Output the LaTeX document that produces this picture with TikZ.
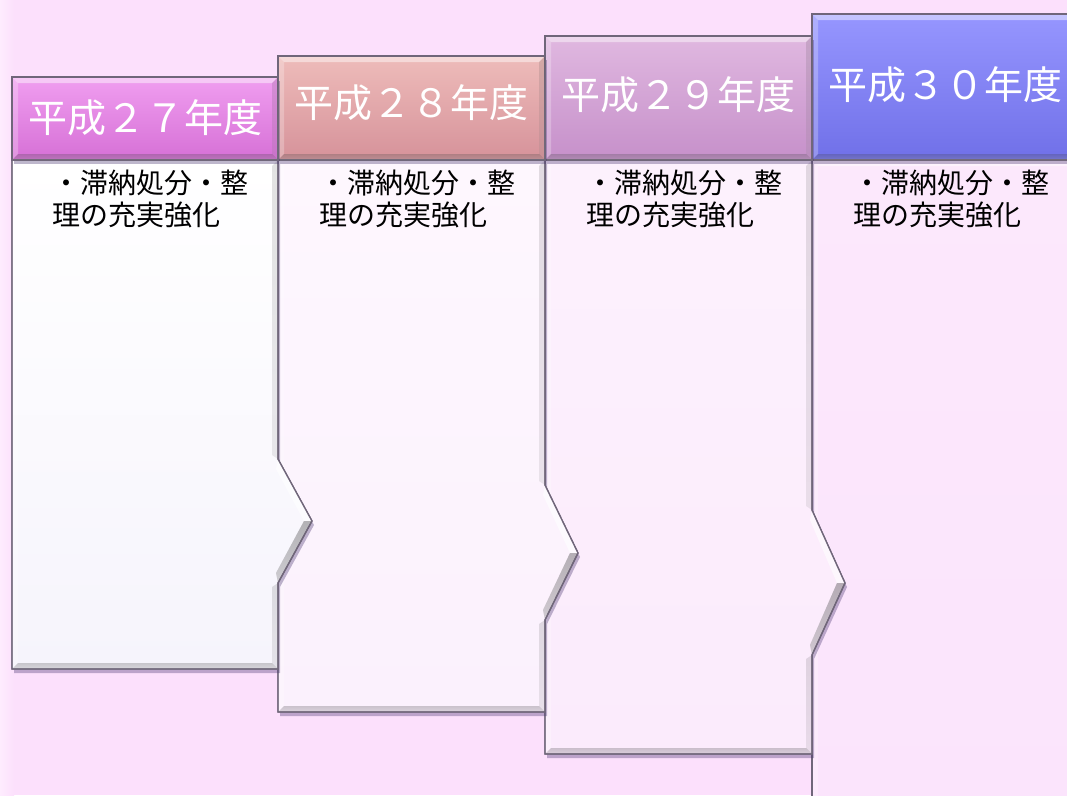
\documentclass[tikz,border=0pt]{standalone}
\usepackage{fontspec}
\setmainfont{Noto Sans CJK JP}
\usetikzlibrary{shadows}
\definecolor{bg}{RGB}{252,224,252}
\definecolor{bgl}{RGB}{254,236,254}
\definecolor{edge}{RGB}{112,102,122}
\definecolor{hAt}{RGB}{240,158,240}\definecolor{hAb}{RGB}{214,112,214}
\definecolor{hBt}{RGB}{238,188,186}\definecolor{hBb}{RGB}{214,146,154}
\definecolor{hCt}{RGB}{224,184,224}\definecolor{hCb}{RGB}{198,144,202}
\definecolor{hDt}{RGB}{150,150,255}\definecolor{hDb}{RGB}{112,112,232}
\definecolor{bAt}{RGB}{255,255,255}\definecolor{bAb}{RGB}{246,244,252}
\definecolor{bBt}{RGB}{254,247,254}\definecolor{bBb}{RGB}{251,241,253}
\definecolor{bCt}{RGB}{253,241,253}\definecolor{bCb}{RGB}{251,235,252}
\definecolor{bDt}{RGB}{252,232,252}\definecolor{bDb}{RGB}{251,228,252}
\definecolor{shade}{RGB}{70,50,110}
\tikzset{
  panel/.style={draw=edge, line width=1.3pt, line join=miter,
    drop shadow={shadow xshift=2pt, shadow yshift=-4pt, opacity=.35, fill=shade}},
  htext/.style={text=white, font=\fontsize{39}{42}\selectfont, inner sep=0pt},
  btext/.style={text=black, font=\fontsize{28}{31.5}\selectfont, inner sep=0pt, align=left, anchor=north west}
}
% bevel on a rectangle: x1,y1,x2,y2
\newcommand\mybevel[4]{%
  \fill[white,opacity=.45] (#1,#2) -- (#3,#2) -- (#3-6,#2+6) -- (#1+6,#2+6) -- cycle;
  \fill[white,opacity=.25] (#1,#2) -- (#1+6,#2+6) -- (#1+6,#4-6) -- (#1,#4) -- cycle;
  \fill[shade,opacity=.14] (#1,#4) -- (#1+6,#4-6) -- (#3-6,#4-6) -- (#3,#4) -- cycle;
  \fill[shade,opacity=.08] (#3,#2) -- (#3,#4) -- (#3-6,#4-6) -- (#3-6,#2+6) -- cycle;
}
% body with arrow on right: L,R,B,nS,P,nM,nE,topcolor,bottomcolor
\newcommand\mybody[9]{%
  \path[panel, top color=#8, bottom color=#9]
    (#1,160) -- (#2,160) -- (#2,#4) -- (#5,#6) -- (#2,#7) -- (#2,#3) -- (#1,#3) -- cycle;
  \fill[white,opacity=.25] (#1,160) -- (#1+6,166) -- (#1+6,#3-6) -- (#1,#3) -- cycle;
  \fill[shade,opacity=.14] (#1,#3) -- (#1+6,#3-6) -- (#2-6,#3-6) -- (#2,#3) -- cycle;
  \fill[shade,opacity=.08] (#2,#7) -- (#2,#3) -- (#2-6,#3-6) -- (#2-6,#7+4) -- cycle;
  \fill[shade,opacity=.08] (#2,160) -- (#2,#4) -- (#2-6,#4-4) -- (#2-6,166) -- cycle;
  \fill[white,opacity=.6] (#2,#4) -- (#5,#6) -- (#5-8,#6) -- (#2-2,#4+10) -- cycle;
  \fill[shade,opacity=.22] (#5,#6) -- (#2,#7) -- (#2-2,#7-10) -- (#5-8,#6) -- cycle;
  \draw[edge, line width=1.3pt] (#1,160) -- (#2,160) -- (#2,#4) -- (#5,#6) -- (#2,#7) -- (#2,#3) -- (#1,#3) -- cycle;
}
\newcommand\myhead[6]{% L,R,top,topcolor,bottomcolor
  \path[panel, top color=#4, bottom color=#5] (#1,#3) rectangle (#2,160);
  \mybevel{#1}{#3}{#2}{160}
  \draw[edge, line width=1pt] (#1,#3) rectangle (#2,160);
}
\begin{document}
\begin{tikzpicture}[x=1pt,y=-1pt]
\useasboundingbox (0,0) rectangle (1067,795);
\clip (0,0) rectangle (1067,795);
\fill[bg] (0,0) rectangle (1067,795);
\shade[left color=bgl, right color=bg] (0,0) rectangle (14,795);
% panel 4
\path[panel, top color=bDt, bottom color=bDb] (812,160) rectangle (1079,830);
\mybevel{812}{160}{1079}{830}
\draw[edge, line width=1.3pt] (812,160) rectangle (1079,830);
\myhead{812}{1079}{14}{hDt}{hDb}{}
% panel 3
\mybody{545}{812}{754}{510}{845}{583}{655}{bCt}{bCb}
\myhead{545}{812}{36}{hCt}{hCb}{}
% panel 2
\mybody{278}{545}{712}{485}{578}{553}{620}{bBt}{bBb}
\myhead{278}{545}{56}{hBt}{hBb}{}
% panel 1
\mybody{12}{278}{669}{459}{312}{521}{583}{bAt}{bAb}
\myhead{12}{278}{77}{hAt}{hAb}{}
% header texts
\node[htext] (h1) at (145,118) {平成２７年度};
\node[htext] (h2) at (411.5,103) {平成２８年度};
\node[htext] (h3) at (678.5,95) {平成２９年度};
\node[htext] (h4) at (945.5,85) {平成３０年度};
% body texts
\node[btext] (t1) at (52,170) {・滞納処分・整\\理の充実強化};
\node[btext] (t2) at (319,170) {・滞納処分・整\\理の充実強化};
\node[btext] (t3) at (586,170) {・滞納処分・整\\理の充実強化};
\node[btext] (t4) at (853,170) {・滞納処分・整\\理の充実強化};
\end{tikzpicture}
\end{document}
